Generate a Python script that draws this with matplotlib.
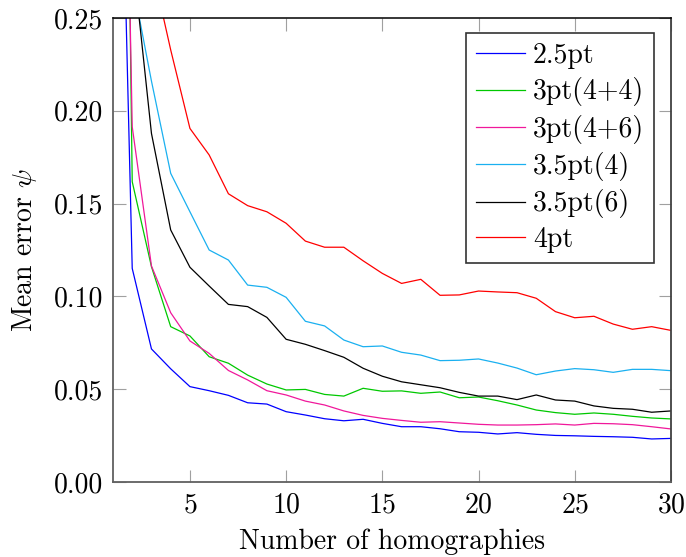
import numpy as np
import matplotlib
matplotlib.use("Agg")
import matplotlib.pyplot as plt
from matplotlib.ticker import FormatStrFormatter

plt.rcParams['font.family'] = ['cmr10', 'DejaVu Serif']
plt.rcParams['mathtext.fontset'] = 'cm'
plt.rcParams['axes.formatter.use_mathtext'] = True

# number of homographies
n_homs = list(range(1, 31))

# mean error per method (first point lies above the visible range)
err_25pt = [0.54, 0.1151, 0.0717, 0.0610, 0.0514, 0.0492, 0.0467, 0.0427, 0.0420, 0.0379,
            0.0361, 0.0341, 0.0330, 0.0338, 0.0316, 0.0298, 0.0298, 0.0287, 0.0271, 0.0268,
            0.0259, 0.0266, 0.0257, 0.0251, 0.0249, 0.0246, 0.0244, 0.0241, 0.0232, 0.0235]
err_3pt44 = [0.95, 0.1618, 0.1160, 0.0837, 0.0787, 0.0675, 0.0640, 0.0576, 0.0528, 0.0496,
             0.0499, 0.0472, 0.0463, 0.0505, 0.0489, 0.0491, 0.0478, 0.0485, 0.0454, 0.0458,
             0.0438, 0.0415, 0.0388, 0.0374, 0.0365, 0.0372, 0.0365, 0.0354, 0.0345, 0.0340]
err_3pt46 = [0.73, 0.1914, 0.1164, 0.0912, 0.0760, 0.0693, 0.0601, 0.0550, 0.0492, 0.0469,
             0.0436, 0.0415, 0.0383, 0.0359, 0.0343, 0.0332, 0.0322, 0.0325, 0.0318, 0.0311,
             0.0307, 0.0307, 0.0309, 0.0313, 0.0307, 0.0316, 0.0314, 0.0309, 0.0298, 0.0286]
err_35pt4 = [0.45, 0.2700, 0.2160, 0.1663, 0.1456, 0.1250, 0.1196, 0.1061, 0.1049, 0.0995,
             0.0866, 0.0841, 0.0765, 0.0729, 0.0733, 0.0699, 0.0684, 0.0654, 0.0656, 0.0663,
             0.0641, 0.0614, 0.0578, 0.0598, 0.0611, 0.0605, 0.0591, 0.0607, 0.0607, 0.0600]
err_35pt6 = [0.48, 0.2850, 0.1878, 0.1358, 0.1157, 0.1056, 0.0957, 0.0945, 0.0887, 0.0769,
             0.0742, 0.0708, 0.0672, 0.0613, 0.0570, 0.0540, 0.0524, 0.0508, 0.0483, 0.0463,
             0.0463, 0.0444, 0.0469, 0.0442, 0.0436, 0.0410, 0.0397, 0.0392, 0.0376, 0.0383]
err_4pt = [0.50, 0.3600, 0.2790, 0.2328, 0.1905, 0.1762, 0.1553, 0.1489, 0.1456, 0.1394,
           0.1298, 0.1265, 0.1265, 0.1192, 0.1124, 0.1070, 0.1092, 0.1006, 0.1008, 0.1029,
           0.1024, 0.1020, 0.0990, 0.0918, 0.0885, 0.0893, 0.0851, 0.0823, 0.0837, 0.0817]

labels = ['2.5pt', '3pt(4+4)', '3pt(4+6)', '3.5pt(4)', '3.5pt(6)', '4pt']
colors = ['#0000ff', '#00c800', '#f0189b', '#1ab0f0', '#000000', '#ff0000']
series = [err_25pt, err_3pt44, err_3pt46, err_35pt4, err_35pt6, err_4pt]

FS = 20

fig = plt.figure(figsize=(6.86, 5.57), dpi=100)
ax = fig.add_axes([0.1647, 0.1346, 0.8133, 0.8331])

for vals, lab, col in zip(series, labels, colors):
    ax.plot(n_homs, vals, color=col, lw=0.9, label=lab)

ax.set_xlim(1, 30)
ax.set_ylim(0, 0.25)
ax.set_xticks([5, 10, 15, 20, 25, 30])
ax.set_yticks([0, 0.05, 0.10, 0.15, 0.20, 0.25])
ax.yaxis.set_major_formatter(FormatStrFormatter('%.2f'))
ax.tick_params(direction='in', length=9, width=0.8, color='#a0a0a0',
               top=True, right=True, labelsize=FS, pad=7)

for side in ['left', 'bottom']:
    ax.spines[side].set_color('#606060')
    ax.spines[side].set_linewidth(1.3)
ax.spines['right'].set_color('#404040')
ax.spines['right'].set_linewidth(1.3)
ax.spines['top'].set_color('black')
ax.spines['top'].set_linewidth(1.1)

ax.set_xlabel('Number of homographies', fontsize=FS, labelpad=7.5)
ax.set_ylabel(r'Mean error $\psi$', fontsize=FS, labelpad=11)

leg = ax.legend(loc='upper right', fontsize=FS, frameon=True, fancybox=False,
                edgecolor='black', handlelength=1.75, handletextpad=0.3,
                labelspacing=0.3, borderpad=0.35, borderaxespad=0,
                bbox_to_anchor=(0.9695, 0.9677))
leg.get_frame().set_linewidth(1.2)

fig.savefig('out.png', dpi=100)
